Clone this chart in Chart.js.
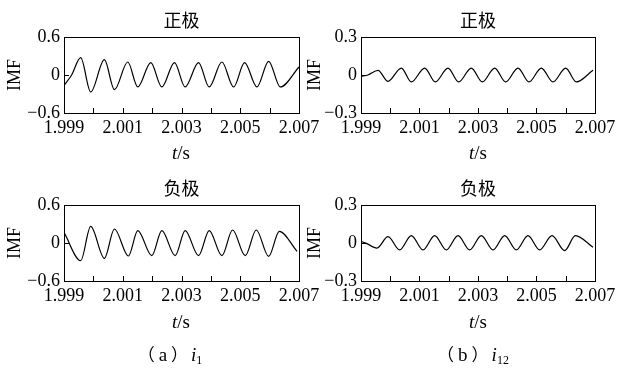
<!DOCTYPE html>
<html>
<head>
<meta charset="utf-8">
<script src="https://cdn.jsdelivr.net/npm/chart.js@4.4.1/dist/chart.umd.min.js"></script>
<style>
  body { margin: 0; background: #fff; }
  #wrap { position: relative; width: 621px; height: 368px; overflow: hidden; }
  canvas { position: absolute; }
  .lbl {
    position: absolute; transform: translate(-50%, -50%);
    font-family: "Liberation Serif", "Noto Sans CJK SC", serif;
    font-size: 19px; line-height: 1; color: #000; white-space: nowrap;
  }
  .cap { font-size: 19px; }
  .cap .p { font-family: "Noto Sans CJK SC"; font-size: 17px; }
  .cap .a { margin: 0 4px; }
  .cap i { margin-left: 3px; }
  .cap sub { font-size: 12px; vertical-align: -3px; }
</style>
</head>
<body>
<div id="wrap">
  <canvas id="c1" width="330" height="170" style="left:0;top:0"></canvas>
  <canvas id="c2" width="321" height="170" style="left:300px;top:0"></canvas>
  <canvas id="c3" width="330" height="170" style="left:0;top:168px"></canvas>
  <canvas id="c4" width="321" height="170" style="left:300px;top:168px"></canvas>

  <div class="lbl" style="left:181px;top:152px"><i>t</i>/s</div>
  <div class="lbl" style="left:478px;top:152px"><i>t</i>/s</div>
  <div class="lbl" style="left:181px;top:321px"><i>t</i>/s</div>
  <div class="lbl" style="left:478px;top:321px"><i>t</i>/s</div>

  <div class="lbl cap" style="left:170px;top:355px"><span class="p">（</span><span class="a">a</span><span class="p">）</span><i>i</i><sub>1</sub></div>
  <div class="lbl cap" style="left:473px;top:355px"><span class="p">（</span><span class="a">b</span><span class="p">）</span><i>i</i><sub>12</sub></div>
</div>

<script>
// 축 눈금
const xTicks = [1.999, 2.001, 2.003, 2.005, 2.007];
const xMarks = [2.000, 2.001, 2.002, 2.003, 2.004, 2.005, 2.006];
const yTicksI1 = [-0.6, 0, 0.6];
const yTicksI12 = [-0.3, 0, 0.3];

// (a) i1 정극
const tPos1 = [1.99900, 1.99926, 1.999568, 1.999909, 2.000375, 2.000716, 2.001170, 2.001511,
  2.001955, 2.002330, 2.002761, 2.003125, 2.003580, 2.003943, 2.004375, 2.004773,
  2.005148, 2.005568, 2.005966, 2.006364, 2.007];
const vPos1 = [-0.163, 0, 0.274, -0.268, 0.242, -0.232, 0.205, -0.189,
  0.195, -0.189, 0.195, -0.189, 0.195, -0.189, 0.205, -0.189,
  0.195, -0.189, 0.216, -0.189, 0.126];

// (b) i12 정극
const tPos12 = [1.99900, 1.999239, 1.999581, 1.999923, 2.000379, 2.000721, 2.001177, 2.001541,
  2.001974, 2.002339, 2.002772, 2.003148, 2.003570, 2.003946, 2.004368, 2.004744,
  2.005165, 2.005564, 2.005997, 2.006362, 2.006932];
const vPos12 = [-0.011, 0, 0.037, -0.050, 0.055, -0.055, 0.055, -0.055,
  0.055, -0.055, 0.055, -0.055, 0.055, -0.055, 0.055, -0.055,
  0.055, -0.055, 0.055, -0.055, 0.037];

// (a) i1 부극
const tNeg1 = [1.99900, 1.999568, 1.999909, 2.000375, 2.000716, 2.001193, 2.001511, 2.001989,
  2.002330, 2.002784, 2.003125, 2.003580, 2.003943, 2.004375, 2.004739, 2.005170,
  2.005545, 2.005966, 2.006330, 2.006932];
const vNeg1 = [0.168, -0.279, 0.263, -0.242, 0.221, -0.205, 0.195, -0.2,
  0.195, -0.2, 0.195, -0.2, 0.195, -0.2, 0.205, -0.2,
  0.205, -0.21, 0.184, -0.132];

// (b) i12 부극
const tNeg12 = [1.99900, 1.999182, 1.999547, 1.999923, 2.000322, 2.000721, 2.001120, 2.001519,
  2.001917, 2.002316, 2.002715, 2.003114, 2.003513, 2.003912, 2.004311, 2.004709,
  2.005108, 2.005530, 2.005963, 2.006328, 2.006932];
const vNeg12 = [0.013, -0.003, -0.04, 0.05, -0.055, 0.058, -0.055, 0.058,
  -0.055, 0.058, -0.055, 0.058, -0.055, 0.058, -0.055, 0.058,
  -0.055, 0.058, -0.06, 0.058, -0.034];

const serif = "'Liberation Serif', 'Times New Roman', serif";

// 테두리와 안쪽 눈금 그리기
const framePlugin = {
  id: "frame",
  afterDatasetsDraw(chart) {
    const { ctx, chartArea: a, scales } = chart;
    ctx.save();
    ctx.strokeStyle = "#000";
    ctx.lineWidth = 1;
    ctx.strokeRect(Math.round(a.left) + 0.5, Math.round(a.top) + 0.5,
      Math.round(a.right - a.left), Math.round(a.bottom - a.top));
    ctx.beginPath();
    xMarks.forEach((v) => {
      const x = Math.round(scales.x.getPixelForValue(v)) + 0.5;
      ctx.moveTo(x, a.bottom);
      ctx.lineTo(x, a.bottom - 5);
    });
    const y0 = Math.round(scales.y.getPixelForValue(0)) + 0.5;
    ctx.moveTo(a.left, y0);
    ctx.lineTo(a.left + 5, y0);
    ctx.stroke();
    ctx.restore();
  },
};

function fmtY(v) {
  if (v === 0) return "0";
  return (v < 0 ? "\u2212" : "") + Math.abs(v).toFixed(1);
}

function makeChart(id, title, ts, vs, yTicks, yLim, yWidth, padRight) {
  const ctx = document.getElementById(id).getContext("2d");
  return new Chart(ctx, {
    type: "line",
    data: {
      datasets: [{
        data: ts.map((t, i) => ({ x: t, y: vs[i] })),
        borderColor: "#000",
        borderWidth: 1.2,
        pointRadius: 0,
        fill: false,
        cubicInterpolationMode: "monotone",
      }],
    },
    options: {
      responsive: false,
      animation: false,
      devicePixelRatio: 1,
      layout: { padding: { left: 0, right: padRight, top: 0, bottom: 0 } },
      plugins: {
        legend: { display: false },
        tooltip: { enabled: false },
        title: {
          display: true,
          text: title,
          fullSize: false,
          color: "#000",
          font: { family: "'Noto Sans CJK SC'", size: 18, weight: "normal" },
          padding: { top: 9.4, bottom: 6 },
        },
      },
      scales: {
        x: {
          type: "linear",
          min: 1.999,
          max: 2.007,
          afterBuildTicks: (s) => { s.ticks = xTicks.map((v) => ({ value: v })); },
          afterFit: (s) => { s.height = 57; },
          grid: { display: false, drawTicks: false },
          border: { display: false },
          ticks: {
            color: "#000",
            font: { family: serif, size: 18 },
            padding: 4,
            maxRotation: 0,
            autoSkip: false,
            callback: (v) => Number(v).toFixed(3),
          },
        },
        y: {
          type: "linear",
          min: -yLim,
          max: yLim,
          afterBuildTicks: (s) => { s.ticks = yTicks.map((v) => ({ value: v })); },
          afterFit: (s) => { s.width = yWidth; },
          grid: { display: false, drawTicks: false },
          border: { display: false },
          ticks: {
            color: "#000",
            font: { family: serif, size: 18 },
            padding: 4,
            callback: (v) => fmtY(v),
          },
          title: {
            display: true,
            text: "IMF",
            color: "#000",
            font: { family: serif, size: 18 },
            padding: { top: 4 },
          },
        },
      },
    },
    plugins: [framePlugin],
  });
}

makeChart("c1", "正极", tPos1, vPos1, yTicksI1, 0.6, 64, 31);
makeChart("c2", "正极", tPos12, vPos12, yTicksI12, 0.3, 61, 26);
makeChart("c3", "负极", tNeg1, vNeg1, yTicksI1, 0.6, 64, 31);
makeChart("c4", "负极", tNeg12, vNeg12, yTicksI12, 0.3, 61, 26);
</script>
</body>
</html>
